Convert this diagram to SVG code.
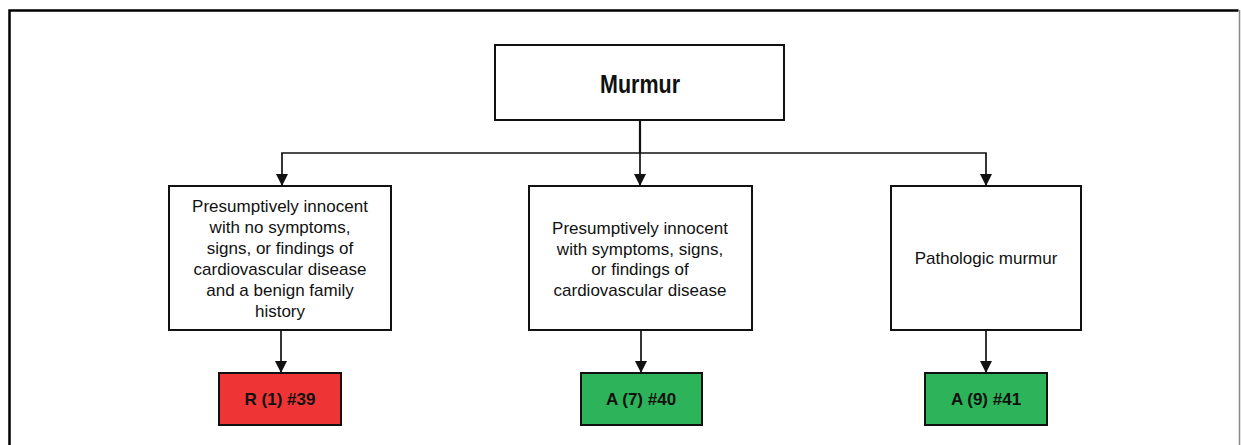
<svg xmlns="http://www.w3.org/2000/svg" width="1241" height="445" viewBox="0 0 1241 445">
<style>
.box{fill:#fff;stroke:#111;stroke-width:2}
.t{font-family:"Liberation Sans",Arial,sans-serif;font-size:17px;fill:#111;text-anchor:middle}
.b{font-family:"Liberation Sans",Arial,sans-serif;font-size:17px;font-weight:bold;fill:#111;text-anchor:middle}
.c{fill:none;stroke:#111;stroke-width:1.7}
.red{fill:#ee3434;stroke:#111;stroke-width:2}
.green{fill:#2db45a;stroke:#111;stroke-width:2}
</style>
<defs>
<path id="ah" d="M-6,-12 H6 L0,0 Z" fill="#111"/>
</defs>
<rect x="0" y="0" width="1241" height="445" fill="#fff"/>
<path d="M9.5,460 V10.5 H1238.5" fill="none" stroke="#000" stroke-width="2.5"/>
<line x1="1239.5" y1="10" x2="1239.5" y2="445" stroke="#888" stroke-width="1.5"/>
<g id="connectors">
<line x1="640" y1="120" x2="640" y2="153" stroke="#111" stroke-width="2.2"/>
<path class="c" d="M282,185 V153 H986 V185"/>
<path class="c" d="M640,153 V185"/>
<use href="#ah" x="282" y="186"/>
<use href="#ah" x="640" y="186"/>
<use href="#ah" x="986" y="186"/>
<path class="c" d="M281,330 V372"/>
<path class="c" d="M641,330 V372"/>
<path class="c" d="M986,330 V372"/>
<use href="#ah" x="281" y="373"/>
<use href="#ah" x="641" y="373"/>
<use href="#ah" x="986" y="373"/>
</g>
<g id="murmur">
<rect class="box" x="495" y="45" width="289" height="75"/>
<text class="b" x="640" y="93" textLength="80" lengthAdjust="spacingAndGlyphs" style="font-size:26px">Murmur</text>
</g>
<g id="innocent-benign">
<rect class="box" x="169" y="186" width="222" height="144"/>
<text class="t" x="280" y="212">Presumptively innocent</text>
<text class="t" x="280" y="233">with no symptoms,</text>
<text class="t" x="280" y="254">signs, or findings of</text>
<text class="t" x="280" y="275">cardiovascular disease</text>
<text class="t" x="280" y="296">and a benign family</text>
<text class="t" x="280" y="317">history</text>
</g>
<g id="innocent-symptoms">
<rect class="box" x="529" y="186" width="223" height="144"/>
<text class="t" x="640" y="234">Presumptively innocent</text>
<text class="t" x="640" y="255">with symptoms, signs,</text>
<text class="t" x="640" y="275">or findings of</text>
<text class="t" x="640" y="296">cardiovascular disease</text>
</g>
<g id="pathologic">
<rect class="box" x="891" y="186" width="190" height="144"/>
<text class="t" x="986" y="264">Pathologic murmur</text>
</g>
<g id="r39">
<rect class="red" x="219" y="373" width="122" height="52"/>
<text class="b" x="280" y="405">R (1) #39</text>
</g>
<g id="a40">
<rect class="green" x="581" y="373" width="121" height="52"/>
<text class="b" x="641" y="405">A (7) #40</text>
</g>
<g id="a41">
<rect class="green" x="925" y="373" width="122" height="52"/>
<text class="b" x="986" y="405">A (9) #41</text>
</g>
</svg>
